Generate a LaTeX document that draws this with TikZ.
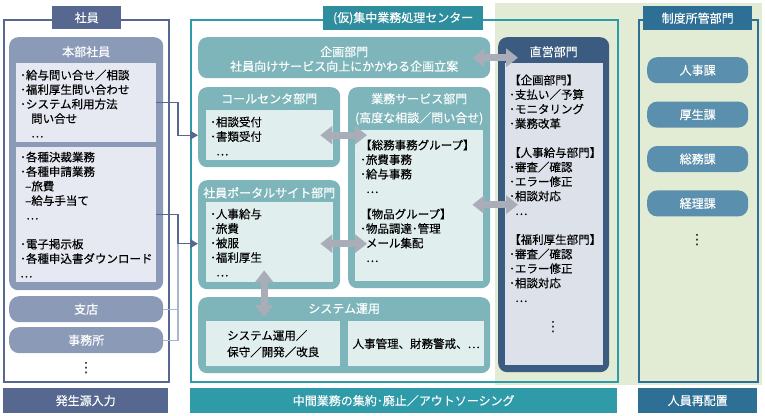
\documentclass[tikz,border=0pt]{standalone}
\usepackage{fontspec}
\setmainfont{Noto Sans CJK JP}[FakeBold=0.3]
\newfontfamily\symfont{DejaVu Sans}
\usetikzlibrary{positioning, arrows.meta}

\definecolor{slate}{HTML}{56688F}
\definecolor{slatebox}{HTML}{8B9AB6}
\definecolor{slatepale}{HTML}{E6E9F1}
\definecolor{slatelight}{HTML}{A9B5CC}
\definecolor{tealline}{HTML}{2F9AA8}
\definecolor{tealtab}{HTML}{2F8E9D}
\definecolor{tealbox}{HTML}{7DB5BA}
\definecolor{tealpale}{HTML}{E1EEEE}
\definecolor{greenbg}{HTML}{E2EBD3}
\definecolor{navy}{HTML}{3B5B80}
\definecolor{navypale}{HTML}{DDE2EA}
\definecolor{steel}{HTML}{2D6F95}
\definecolor{steelbtn}{HTML}{5B8FAE}
\definecolor{arrowgray}{HTML}{A9ADB8}

\tikzset{
  groupframe/.style={anchor=north west, inner sep=0pt, line width=1.5pt},
  grouptab/.style={anchor=north west, inner sep=0pt, minimum height=23pt, text=white, font=\fontsize{12}{14}\selectfont},
  grouplabel/.style={anchor=north west, inner sep=0pt, minimum height=25pt, text=white, font=\fontsize{12}{14}\selectfont},
  unit/.style={anchor=north west, inner sep=0pt, rounded corners=9pt},
  pane/.style={anchor=north west, inner sep=0pt},
  boxhead/.style={inner sep=0pt, text=white, align=center, font=\fontsize{12}{14.5}\selectfont},
  boxtext/.style={anchor=north west, inner sep=0pt, align=left},
  pill/.style={anchor=north west, inner sep=0pt, rounded corners=10pt, minimum height=26pt, text=white, font=\fontsize{12}{14}\selectfont},
  vdots/.style={inner sep=0pt, font=\symfont\fontsize{14}{14}\selectfont},
  feedline/.style={draw=slate, line width=1.3pt},
  feedlight/.style={draw=slatelight, line width=1.3pt},
  dblarrow/.style={draw=arrowgray, line width=7pt, {Triangle[length=12pt,width=18pt]}-{Triangle[length=12pt,width=18pt]}}
}

\begin{document}
\begin{tikzpicture}[x=1pt, y=-1pt, font=\fontsize{11.5}{14.5}\selectfont, node distance=18pt]
  \fill[white] (0,0) rectangle (765,415);
  \useasboundingbox (0,0) rectangle (765,415);
  \fill[greenbg] (495,3) rectangle (762,385);

  % staff side
  \node[groupframe, draw=slate, minimum width=165pt, minimum height=362pt] (staff) at (3,19) {};
  \node[grouptab, fill=slate, minimum width=69pt] (stafftab) at (52,6) {社員};
  \node[unit, fill=slatebox, minimum width=154pt, minimum height=253pt] (hq) at (9,37) {};
  \node[boxhead, below=9pt of hq.north] (hqhead) {本部社員};
  \node[pane, fill=slatepale, minimum width=140pt, minimum height=79pt] (inq) at (16,63) {};
  \node[boxtext] (inqtext) at (20,69.5) {･給与問い合せ／相談\\･福利厚生問い合わせ\\･システム利用方法\\\hspace{11pt}問い合せ\\\hspace{11pt}…};
  \node[pane, fill=slatepale, minimum width=140pt, minimum height=135pt] (apply) at (16,147) {};
  \node[boxtext] (applytext) at (20,151.5) {･各種決裁業務\\･各種申請業務\\\hspace{5pt}–旅費\\\hspace{5pt}–給与手当て\\\hspace{6pt}…\\[14.5pt]･電子掲示板\\･各種申込書ダウンロード\\…};
  \node[pill, fill=slatebox, minimum width=154pt] (branch) at (9,296) {支店};
  \node[pill, fill=slatebox, minimum width=154pt] (office) at (9,327) {事務所};
  \node[vdots] (staffdots) at (86,368) {⋮};
  \node[grouplabel, fill=slate, minimum width=165pt] (sourcein) at (3,388) {発生源入力};

  % center
  \node[groupframe, draw=tealline, minimum width=427pt, minimum height=362pt] (center) at (190,19) {};
  \node[grouptab, fill=tealtab, minimum width=160pt, minimum height=24pt] (centertab) at (323,6) {(仮)集中業務処理センター};
  \node[unit, fill=tealbox, minimum width=292pt, minimum height=41pt] (kikaku) at (198,37) {};
  \node[boxhead, below=9pt of kikaku.north] (kikakuhead) {企画部門\\社員向けサービス向上にかかわる企画立案};

  \node[unit, fill=tealbox, minimum width=142pt, minimum height=80pt] (callc) at (198,87) {};
  \node[boxhead, below=6pt of callc.north] (callchead) {コールセンタ部門};
  \node[pane, fill=tealpale, minimum width=127pt, minimum height=50pt] (callcin) at (206,110) {};
  \node[boxtext] (callctext) at (210,116.5) {･相談受付\\･書類受付\\\hspace{6pt}…};

  \node[unit, fill=tealbox, minimum width=142pt, minimum height=201pt] (service) at (348,87) {};
  \node[boxhead, below=6pt of service.north] (servicehead) {業務サービス部門\\[4.5pt](高度な相談／問い合せ)};
  \node[pane, fill=tealpale, minimum width=128pt, minimum height=151pt] (servicein) at (355,130) {};
  \node[boxtext] (servicetext) at (360,139.5) {【総務事務グループ】\\･旅費事務\\･給与事務\\\hspace{6pt}…\\[11pt]【物品グループ】\\･物品調達･管理\\･メール集配\\\hspace{6pt}…};

  \node[unit, fill=tealbox, minimum width=142pt, minimum height=109pt] (portal) at (198,180) {};
  \node[boxhead, below=7pt of portal.north] (portalhead) {社員ポータルサイト部門};
  \node[pane, fill=tealpale, minimum width=127pt, minimum height=80pt] (portalin) at (206,202) {};
  \node[boxtext] (portaltext) at (210,208.5) {･人事給与\\･旅費\\･被服\\･福利厚生\\\hspace{6pt}…};

  \node[unit, fill=tealbox, minimum width=292pt, minimum height=76pt] (sysops) at (198,297) {};
  \node[boxhead, below=6pt of sysops.north] (sysopshead) {システム運用};
  \node[pane, fill=tealpale, minimum width=134pt, minimum height=45pt] (sysmaint) at (206,321) {};
  \node[align=left, inner sep=0pt, font=\fontsize{11.5}{16.5}\selectfont] (sysmainttext) at (sysmaint.center) {システム運用／\\保守／開発／改良};
  \node[pane, fill=tealpale, minimum width=136pt, minimum height=45pt] (sysapp) at (348,321) {};
  \node[inner sep=0pt] (sysapptext) at (sysapp.center) {人事管理、財務警戒、…};
  \node[grouplabel, fill=tealline, minimum width=427pt] (outsource) at (190,388) {中間業務の集約･廃止／アウトソーシング};

  % direct unit
  \node[unit, fill=navy, minimum width=111pt, minimum height=335pt] (direct) at (498,37) {};
  \node[boxhead, below=9pt of direct.north] (directhead) {直営部門};
  \node[pane, fill=navypale, minimum width=98pt, minimum height=302pt] (directin) at (505,63) {};
  \node[boxtext] (directtext) at (509,74.5) {【企画部門】\\･支払い／予算\\･モニタリング\\･業務改革\\[14.5pt]【人事給与部門】\\･審査／確認\\･エラー修正\\･相談対応\\\hspace{6pt}…\\[14.5pt]【福利厚生部門】\\･審査／確認\\･エラー修正\\･相談対応\\\hspace{6pt}…};
  \node[vdots] (directdots) at (553,327) {⋮};

  % system owners
  \node[groupframe, draw=steel, minimum width=119pt, minimum height=362pt] (owners) at (638,19) {};
  \node[grouptab, fill=steel, minimum width=109pt, minimum height=24pt] (ownerstab) at (643,6) {制度所管部門};
  \node[pill, fill=steelbtn, minimum width=101pt] (jinji) at (647,57) {人事課};
  \node[pill, fill=steelbtn, minimum width=101pt, below=of jinji] (kousei) {厚生課};
  \node[pill, fill=steelbtn, minimum width=101pt, below=of kousei] (soumu) {総務課};
  \node[pill, fill=steelbtn, minimum width=101pt, below=of soumu] (keiri) {経理課};
  \node[vdots] (ownerdots) at (697,240) {⋮};
  \node[grouplabel, fill=steel, minimum width=119pt] (relocate) at (638,388) {人員再配置};

  % feeds into the center
  \coordinate (calljoin) at ([xshift=-20pt,yshift=-8pt]callc.west);
  \coordinate (portaljoin) at ([xshift=-20pt,yshift=-9pt]portal.west);
  \draw[feedlight] (branch.east) -| (portaljoin);
  \draw[feedlight] (office.east) -| (portaljoin);
  \draw[feedline, -{Triangle[length=8pt,width=9pt]}] (inq.east) -| (calljoin) -- ([yshift=-8pt]callc.west);
  \draw[feedline, -{Triangle[length=8pt,width=9pt]}] (apply.east) -| (portaljoin) -- ([yshift=-9pt]portal.west);

  % exchanges
  \draw[dblarrow] ([xshift=-18pt]kikaku.east) -- ([xshift=20pt]direct.west |- kikaku.east);
  \draw[dblarrow] ([xshift=-18pt]service.east |- direct.west) -- ([xshift=20pt]direct.west);
  \draw[dblarrow] ([xshift=-20pt,yshift=-8pt]callc.east) -- ([xshift=19pt,yshift=-8pt]service.west |- callc.east);
  \draw[dblarrow] ([xshift=-20pt,yshift=-9pt]portal.east) -- ([xshift=19pt,yshift=-9pt]service.west |- portal.east);
  \draw[dblarrow] ([xshift=-5pt,yshift=19pt]portal.south) -- ([xshift=-5pt,yshift=-20pt]portal.south |- sysops.north);
\end{tikzpicture}
\end{document}
